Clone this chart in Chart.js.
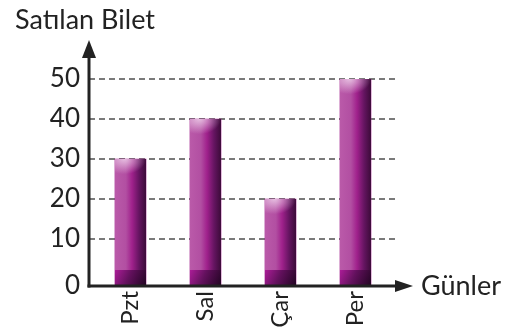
<!DOCTYPE html>
<html><head><meta charset="utf-8">
<script src="https://cdn.jsdelivr.net/npm/chart.js@4/dist/chart.umd.min.js"></script>
<style>html,body{margin:0;padding:0;background:#fff}#wrap{width:516px;height:334px}</style>
</head><body><div id="wrap"><canvas id="c" width="516" height="334"></canvas></div>
<script>
const categories = ['Pzt', 'Sal', 'Çar', 'Per'];
const ticketsSold = [30, 40, 20, 50];
const yTickValues = [10, 20, 30, 40, 50];
const yAxisTitle = 'Satılan Bilet';
const xAxisTitle = 'Günler';
const Y_MIN = -1.75;
const X_MIN = -0.553, X_MAX = 3.567;
const FONT = 'Lato, "Noto Sans", sans-serif';

const barStyle = {
  id: 'barStyle',
  afterDatasetsDraw(chart) {
    const ctx = chart.ctx;
    chart.getDatasetMeta(0).data.forEach(b => {
      const w = b.width, l = b.x - w / 2, t = b.y, bot = b.base, h = bot - t;
      ctx.save();
      ctx.beginPath(); ctx.rect(l, t, w, h); ctx.clip();
      let g = ctx.createLinearGradient(l, 0, l + w, 0);
      g.addColorStop(0, '#ba5aa9'); g.addColorStop(0.35, '#b24fa2');
      g.addColorStop(0.55, '#a0218c'); g.addColorStop(0.78, '#641460'); g.addColorStop(1, '#3c0b39');
      ctx.fillStyle = g; ctx.fillRect(l, t, w, h);
      ctx.save();
      ctx.translate(l + w * 0.3, t);
      ctx.scale(1, 0.7);
      let r = ctx.createRadialGradient(0, 0, 0, 0, 0, w * 0.7);
      r.addColorStop(0, 'rgba(235,200,230,0.9)'); r.addColorStop(0.5, 'rgba(235,200,230,0.45)'); r.addColorStop(1, 'rgba(235,200,230,0)');
      ctx.fillStyle = r; ctx.fillRect(-w, 0, w * 3, w * 2);
      ctx.restore();
      const bh = 15;
      let d = ctx.createLinearGradient(l, bot - bh, l + w, bot);
      d.addColorStop(0, 'rgba(170,25,150,0.95)'); d.addColorStop(0.45, 'rgba(95,15,90,0.95)'); d.addColorStop(1, 'rgba(35,5,35,0.98)');
      ctx.fillStyle = d; ctx.fillRect(l, bot - bh, w, bh);
      ctx.restore();
    });
  },
  afterDraw(chart) {
    const ctx = chart.ctx, a = chart.chartArea;
    ctx.save();
    ctx.strokeStyle = '#222'; ctx.fillStyle = '#222'; ctx.lineWidth = 3;
    ctx.beginPath(); ctx.moveTo(a.left, a.bottom + 1.5); ctx.lineTo(a.left, a.top - 28); ctx.stroke();
    ctx.beginPath(); ctx.moveTo(a.left, a.top - 39); ctx.lineTo(a.left - 7, a.top - 21); ctx.lineTo(a.left + 7, a.top - 21); ctx.closePath(); ctx.fill();
    ctx.beginPath(); ctx.moveTo(a.left - 1.5, a.bottom); ctx.lineTo(a.right + 2, a.bottom); ctx.stroke();
    ctx.beginPath(); ctx.moveTo(a.right + 15, a.bottom); ctx.lineTo(a.right - 3, a.bottom - 6); ctx.lineTo(a.right - 3, a.bottom + 6); ctx.closePath(); ctx.fill();
    ctx.font = '27px ' + FONT;
    ctx.textBaseline = 'alphabetic'; ctx.textAlign = 'left';
    ctx.fillText(yAxisTitle, 15, 29);
    ctx.textBaseline = 'middle';
    ctx.fillText(xAxisTitle, a.right + 23, a.bottom);
    ctx.restore();
  }
};

new Chart(document.getElementById('c'), {
  type: 'bar',
  data: { datasets: [{ data: ticketsSold.map((v, i) => ({ x: i, y: v })), base: Y_MIN, backgroundColor: '#a0218c', barThickness: 31 }] },
  options: {
    responsive: false, animation: false, devicePixelRatio: 1,
    layout: { padding: { top: 79, right: 118, left: 0, bottom: 0 } },
    plugins: { legend: { display: false }, tooltip: { enabled: false } },
    scales: {
      x: {
        type: 'linear', min: X_MIN, max: X_MAX, offset: false,
        afterBuildTicks(s) { s.ticks = categories.map((c, i) => ({ value: i })); },
        grid: { display: false, drawTicks: false },
        border: { display: false },
        ticks: { maxRotation: 90, minRotation: 90, padding: 5, autoSkip: false, color: '#222', font: { family: FONT, size: 24 }, callback: v => categories[v] },
        afterFit(s) { s.height = 48; }
      },
      y: {
        min: Y_MIN, max: 50,
        afterBuildTicks(s) { s.ticks = [{ value: Y_MIN }].concat(yTickValues.map(v => ({ value: v }))); },
        grid: { drawTicks: false, color: c => (c.tick && c.tick.value < 0) ? 'rgba(0,0,0,0)' : '#7a7a7a', lineWidth: 2 },
        border: { display: false, dash: [6, 4] },
        ticks: { padding: 9, color: '#222', font: { family: FONT, size: 26 }, callback: v => v < 0 ? '0' : String(v) },
        afterFit(s) { s.width = 89; }
      }
    }
  },
  plugins: [barStyle]
});
</script></body></html>
